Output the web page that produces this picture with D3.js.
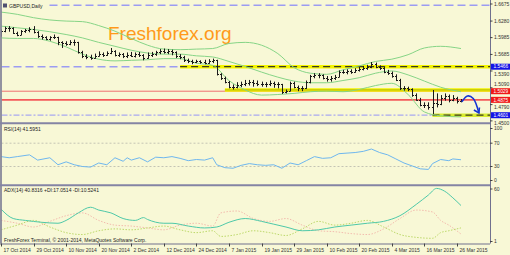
<!DOCTYPE html>
<html><head><meta charset="utf-8">
<script src="https://cdn.jsdelivr.net/npm/d3@7"></script>
<style>body{margin:0;background:#fff}svg{display:block}text{font-family:"Liberation Sans",Arial,sans-serif}</style>
</head><body><svg id="c" width="510" height="255"></svg>
<script>
// ---- data ----
const dateLabels = ["17 Oct 2014","29 Oct 2014","10 Nov 2014","20 Nov 2014","2 Dec 2014","12 Dec 2014","24 Dec 2014","7 Jan 2015","19 Jan 2015","29 Jan 2015","10 Feb 2015","20 Feb 2015","4 Mar 2015","16 Mar 2015","26 Mar 2015"];
const dateLabelIdx = [0,8,16,24,32,40,48,56,64,72,80,88,96,104,112];
const opens = [1.6020,1.6100,1.6150,1.6160,1.6070,1.6040,1.6100,1.6120,1.6140,1.6080,1.6010,1.5990,1.5960,1.5990,1.5990,1.5900,1.5880,1.5870,1.5900,1.5900,1.5720,1.5650,1.5640,1.5630,1.5660,1.5700,1.5680,1.5710,1.5740,1.5680,1.5690,1.5660,1.5670,1.5660,1.5690,1.5670,1.5630,1.5680,1.5700,1.5720,1.5740,1.5730,1.5740,1.5720,1.5650,1.5640,1.5580,1.5560,1.5550,1.5560,1.5550,1.5540,1.5560,1.5580,1.5330,1.5270,1.5200,1.5100,1.5110,1.5140,1.5150,1.5170,1.5190,1.5180,1.5160,1.5160,1.5150,1.5170,1.5150,1.5150,1.5010,1.5040,1.5180,1.5100,1.5080,1.5090,1.5190,1.5300,1.5320,1.5310,1.5270,1.5250,1.5260,1.5290,1.5370,1.5380,1.5390,1.5380,1.5400,1.5430,1.5440,1.5460,1.5520,1.5460,1.5440,1.5380,1.5360,1.5300,1.5230,1.5080,1.5090,1.5070,1.4960,1.4880,1.4790,1.4780,1.4750,1.4820,1.4800,1.4900,1.4950,1.4880,1.4900,1.4850];
const highs = [1.6130,1.6180,1.6190,1.6170,1.6090,1.6120,1.6140,1.6170,1.6190,1.6100,1.6040,1.6010,1.6010,1.6040,1.6000,1.5920,1.5920,1.5940,1.5950,1.5910,1.5750,1.5690,1.5680,1.5700,1.5740,1.5720,1.5740,1.5800,1.5760,1.5720,1.5710,1.5720,1.5730,1.5720,1.5730,1.5690,1.5720,1.5730,1.5750,1.5780,1.5790,1.5780,1.5770,1.5740,1.5690,1.5660,1.5610,1.5590,1.5590,1.5580,1.5590,1.5600,1.5610,1.5590,1.5350,1.5290,1.5210,1.5150,1.5190,1.5200,1.5230,1.5230,1.5230,1.5220,1.5200,1.5190,1.5220,1.5200,1.5190,1.5160,1.5060,1.5200,1.5200,1.5130,1.5120,1.5220,1.5320,1.5350,1.5350,1.5330,1.5300,1.5300,1.5320,1.5400,1.5410,1.5420,1.5420,1.5440,1.5460,1.5480,1.5500,1.5550,1.5540,1.5490,1.5460,1.5410,1.5380,1.5330,1.5250,1.5120,1.5110,1.5080,1.4990,1.4910,1.4830,1.4830,1.5050,1.4990,1.4960,1.4990,1.4970,1.4960,1.4930,1.4890];
const lows = [1.6010,1.6080,1.6090,1.6050,1.6010,1.6030,1.6070,1.6080,1.6060,1.5980,1.5950,1.5940,1.5930,1.5960,1.5850,1.5800,1.5840,1.5850,1.5840,1.5700,1.5620,1.5600,1.5590,1.5610,1.5650,1.5640,1.5660,1.5690,1.5650,1.5640,1.5620,1.5620,1.5640,1.5630,1.5640,1.5580,1.5610,1.5640,1.5660,1.5690,1.5700,1.5690,1.5670,1.5620,1.5600,1.5550,1.5530,1.5510,1.5530,1.5520,1.5510,1.5520,1.5530,1.5310,1.5230,1.5170,1.5080,1.5060,1.5080,1.5100,1.5120,1.5130,1.5110,1.5120,1.5110,1.5100,1.5120,1.5090,1.5080,1.4980,1.4990,1.5030,1.5080,1.5030,1.5030,1.5070,1.5170,1.5260,1.5260,1.5240,1.5200,1.5200,1.5230,1.5280,1.5340,1.5330,1.5340,1.5360,1.5380,1.5400,1.5410,1.5440,1.5440,1.5410,1.5350,1.5320,1.5270,1.5210,1.5050,1.5040,1.5030,1.4930,1.4860,1.4760,1.4730,1.4700,1.4620,1.4740,1.4780,1.4860,1.4830,1.4850,1.4810,1.4830];
const closes = [1.6100,1.6150,1.6160,1.6070,1.6040,1.6100,1.6120,1.6140,1.6080,1.6010,1.5990,1.5960,1.5990,1.5990,1.5900,1.5880,1.5870,1.5900,1.5900,1.5720,1.5650,1.5640,1.5630,1.5660,1.5700,1.5680,1.5710,1.5740,1.5680,1.5690,1.5660,1.5670,1.5660,1.5690,1.5670,1.5630,1.5680,1.5700,1.5720,1.5740,1.5730,1.5740,1.5720,1.5650,1.5640,1.5580,1.5560,1.5550,1.5560,1.5550,1.5540,1.5560,1.5580,1.5330,1.5270,1.5200,1.5100,1.5110,1.5140,1.5150,1.5170,1.5190,1.5180,1.5160,1.5160,1.5150,1.5170,1.5150,1.5150,1.5010,1.5040,1.5180,1.5100,1.5080,1.5090,1.5190,1.5300,1.5320,1.5310,1.5270,1.5250,1.5260,1.5290,1.5370,1.5380,1.5390,1.5380,1.5400,1.5430,1.5440,1.5460,1.5520,1.5460,1.5440,1.5380,1.5360,1.5300,1.5230,1.5080,1.5090,1.5070,1.4960,1.4880,1.4790,1.4780,1.4750,1.4820,1.4800,1.4900,1.4950,1.4880,1.4900,1.4850,1.4870];
// Bollinger bands, read at sample bars
const bandIdx   = [0,4,8,12,16,20,24,28,32,36,40,44,48,52,56,60,64,68,72,76,80,84,88,92,96,100,104,108,113];
const bandUpper = [1.644,1.640,1.634,1.630,1.628,1.627,1.620,1.610,1.597,1.585,1.578,1.577,1.578,1.579,1.588,1.590,1.585,1.570,1.545,1.535,1.533,1.541,1.548,1.556,1.560,1.568,1.580,1.583,1.579];
const bandMid   = [1.619,1.616,1.613,1.609,1.604,1.598,1.590,1.583,1.576,1.571,1.569,1.569,1.566,1.564,1.556,1.547,1.537,1.528,1.521,1.518,1.518,1.522,1.527,1.535,1.539,1.532,1.521,1.510,1.502];
const bandLower = [1.598,1.597,1.597,1.592,1.582,1.569,1.560,1.557,1.558,1.559,1.561,1.561,1.553,1.549,1.522,1.505,1.496,1.497,1.499,1.502,1.503,1.502,1.506,1.513,1.517,1.497,1.466,1.459,1.457];
// horizontal levels
const dashedLevels = [1.6560, 1.5466];
const dashDotLevel = 1.4601;
const redThin = 1.5029, redThick = 1.4875;
const yellowLines = [{from:44, price:1.5466, dash:true},{from:55, price:1.5052, dash:false},{from:106, price:1.4601, dash:true}];
const priceTicks = [1.6675,1.6280,1.5985,1.5685,1.5390,1.5090,1.4790,1.4500];
const priceBoxes = [{v:"1.5466",p:1.5466,c:"#1414e6"},{v:"1.5029",p:1.5029,c:"#f01818"},{v:"1.4875",p:1.4875,c:"#f01818"},{v:"1.4601",p:1.4601,c:"#1414e6"}];
const arrowPts = [[113.2,1.4840],[114.6,1.4945],[116.0,1.4900],[117.4,1.4640]];
// RSI(14)
const rsiIdx = [0,2,4,7,9,12,14,16,18,20,22,24,26,28,30,31,32,34,36,38,40,42,44,46,48,50,52,53,55,57,59,61,63,65,67,69,71,73,75,77,79,81,83,85,87,89,91,93,95,97,99,101,103,105,106,108,110,111,113];
const rsiVal = [47,45,47,50,41,45,33,38,33,30,29,36,33,45,39,45,41,45,38,46,45,47,44,40,42,41,45,33,28,27,32,35,33,32,33,27,36,33,40,47,44,45,52,53,54,56,60,54,50,43,36,31,26,25,35,42,40,43,41.6];
const rsiTicks = [100,70,30,0];
// ADX(14), +DI, -DI
const adxIdx = [0,3,6,10,14,16,19,22,24,27,30,33,35,36,40,42,46,50,53,56,60,64,67,70,74,78,82,86,90,94,98,102,105,107,109,111,113];
const adxVal = [37,27,25,23,22,25,33,39,36,33,27,25,28,26,22,22,19,17,18,23,27,24,21,18,14,15,18,20,22,24,30,42,52,59,56,49,40.8];
const diIdx = [0,4,8,12,16,20,24,28,32,36,40,44,48,52,54,58,62,66,70,74,78,82,86,90,94,98,102,106,108,110,113];
const plusDI = [15,20,25,18,12,10,14,16,15,17,19,15,12,14,8,10,14,12,9,16,24,20,22,25,18,10,7,6,12,14,17.05];
const minusDI = [25,22,18,24,30,33,25,20,19,17,15,20,22,19,33,35,27,24,27,20,14,13,11,10,16,27,36,34,25,20,10.52];
const adxTicks = [60,1];

// ---- layout ----
const svg = d3.select("#c");
const BG = "#f8f8d6", FRAME = "#70708e";
const L = 1.5, R = 490;
const main = {top:2, bottom:122.5}, rsiP = {top:124.5, bottom:184}, adxP = {top:186.5, bottom:243.5};
svg.append("rect").attr("width",510).attr("height",255).attr("fill",BG);

const x = d3.scaleLinear().domain([0,113]).range([1,461]);
const y = d3.scaleLinear().domain([1.4480,1.6620]).range([122,2]);
const yR = d3.scaleLinear().domain([0,100]).range([184,125.7]);
const yA = d3.scaleLinear().domain([1,60.5]).range([243,187]);

const defs = svg.append("defs");
defs.append("clipPath").attr("id","cm").append("rect").attr("x",L).attr("y",main.top).attr("width",R-L).attr("height",main.bottom-main.top);
defs.append("clipPath").attr("id","cr").append("rect").attr("x",L).attr("y",rsiP.top).attr("width",R-L).attr("height",rsiP.bottom-rsiP.top);
defs.append("clipPath").attr("id","ca").append("rect").attr("x",L).attr("y",adxP.top).attr("width",R-L).attr("height",adxP.bottom-adxP.top);

const gm = svg.append("g").attr("clip-path","url(#cm)");

// watermark
gm.append("text").attr("x",108).attr("y",40).attr("font-size",19).attr("fill","#ff9a1a").text("Freshforex.org");

// dashed lavender levels
dashedLevels.forEach(p=>{
  gm.append("line").attr("x1",L).attr("x2",R).attr("y1",y(p)).attr("y2",y(p))
    .attr("stroke","#9c9cf2").attr("stroke-width",1.5).attr("stroke-dasharray","8,4");
});
gm.append("line").attr("x1",L).attr("x2",R).attr("y1",y(dashDotLevel)).attr("y2",y(dashDotLevel))
  .attr("stroke","#a8a8f0").attr("stroke-width",1.3).attr("stroke-dasharray","6,2,2,2");
gm.append("line").attr("x1",L).attr("x2",R).attr("y1",y(redThin)).attr("y2",y(redThin)).attr("stroke","#f07070").attr("stroke-width",1);
gm.append("line").attr("x1",L).attr("x2",R).attr("y1",y(redThick)).attr("y2",y(redThick)).attr("stroke","#f45a5a").attr("stroke-width",1.8);

// yellow highlighted lines
yellowLines.forEach(d=>{
  gm.append("line").attr("x1",x(d.from)).attr("x2",R).attr("y1",y(d.price)).attr("y2",y(d.price))
    .attr("stroke",d.from>100?"#d8ec30":"#f4f400").attr("stroke-width",3.5);
  gm.append("line").attr("x1",x(d.from)).attr("x2",R).attr("y1",y(d.price)).attr("y2",y(d.price))
    .attr("stroke","#3a3a20").attr("stroke-width",d.dash?1.3:0.6).attr("stroke-dasharray",d.dash?"7,4":null).attr("opacity",d.dash?1:0.6);
});

// Bollinger bands
[bandUpper,bandMid,bandLower].forEach(arr=>{
  gm.append("path").datum(bandIdx.map((i,k)=>[i,arr[k]]))
    .attr("d",d3.line().x(d=>x(d[0])).y(d=>y(d[1])).curve(d3.curveMonotoneX))
    .attr("fill","none").attr("stroke","#86d486").attr("stroke-width",1);
});

// OHLC bars
const bars = gm.append("g").attr("stroke","#1a1a1a").attr("stroke-width",1);
closes.forEach((c,i)=>{
  const xi = Math.round(x(i))+0.5;
  bars.append("line").attr("x1",xi).attr("x2",xi).attr("y1",y(highs[i])).attr("y2",y(lows[i]));
  bars.append("line").attr("x1",xi-1.5).attr("x2",xi).attr("y1",Math.round(y(opens[i]))+0.5).attr("y2",Math.round(y(opens[i]))+0.5);
  bars.append("line").attr("x1",xi).attr("x2",xi+1.5).attr("y1",Math.round(y(c))+0.5).attr("y2",Math.round(y(c))+0.5);
});

// arrow
const ap = arrowPts.map(d=>[x(d[0]),y(d[1])]);
gm.append("path").attr("d",d3.line().curve(d3.curveCatmullRom)(ap)).attr("fill","none").attr("stroke","#1434d4").attr("stroke-width",1.6);
const tip = ap[ap.length-1];
gm.append("path").attr("d",`M${tip[0]-5},${tip[1]-3}L${tip[0]},${tip[1]}L${tip[0]+0.5},${tip[1]-5.5}`).attr("fill","none").attr("stroke","#1434d4").attr("stroke-width",1.6);

// title (with its own background, which hides the level line behind it)
svg.append("rect").attr("x",2).attr("y",2).attr("width",46).attr("height",8).attr("fill",BG);
svg.append("rect").attr("x",3).attr("y",3.5).attr("width",4).attr("height",4).attr("fill","#505070");
svg.append("text").attr("x",9).attr("y",8).attr("font-size",5).attr("fill","#222").text("GBPUSD,Daily");

// RSI panel
const gr = svg.append("g").attr("clip-path","url(#cr)");
[70,30].forEach(v=>gr.append("line").attr("x1",L).attr("x2",R).attr("y1",yR(v)).attr("y2",yR(v)).attr("stroke","#c4c4b4").attr("stroke-dasharray","2,2"));
gr.append("path").datum(rsiIdx.map((i,k)=>[i,rsiVal[k]]))
  .attr("d",d3.line().x(d=>x(d[0])).y(d=>yR(d[1])))
  .attr("fill","none").attr("stroke","#6eb6ee").attr("stroke-width",1);
svg.append("text").attr("x",4).attr("y",131).attr("font-size",5).attr("fill","#222").text("RSI(14) 41.5951");

// ADX panel
const ga = svg.append("g").attr("clip-path","url(#ca)");
ga.append("path").datum(diIdx.map((i,k)=>[i,minusDI[k]]))
  .attr("d",d3.line().x(d=>x(d[0])).y(d=>yA(d[1])).curve(d3.curveMonotoneX))
  .attr("fill","none").attr("stroke","#f2bcae").attr("stroke-width",1).attr("stroke-dasharray","1.5,1.5");
ga.append("path").datum(diIdx.map((i,k)=>[i,plusDI[k]]))
  .attr("d",d3.line().x(d=>x(d[0])).y(d=>yA(d[1])).curve(d3.curveMonotoneX))
  .attr("fill","none").attr("stroke","#bcd86a").attr("stroke-width",1).attr("stroke-dasharray","1.5,1.5");
ga.append("path").datum(adxIdx.map((i,k)=>[i,adxVal[k]]))
  .attr("d",d3.line().x(d=>x(d[0])).y(d=>yA(d[1])).curve(d3.curveMonotoneX))
  .attr("fill","none").attr("stroke","#4ec8a8").attr("stroke-width",1);
svg.append("text").attr("x",4).attr("y",192).attr("font-size",5).attr("fill","#222").text("ADX(14) 40.8316 +DI:17.0514 -DI:10.5241");
svg.append("text").attr("x",4).attr("y",242).attr("font-size",5).attr("fill","#222").text("FreshForex Terminal, © 2001-2014, MetaQuotes Software Corp.");

// frames
const fr = svg.append("g").attr("fill","none").attr("stroke",FRAME);
fr.append("line").attr("x1",1).attr("x2",1).attr("y1",0).attr("y2",adxP.bottom).attr("stroke-width",1.5);
fr.append("line").attr("x1",R+0.5).attr("x2",R+0.5).attr("y1",0).attr("y2",adxP.bottom);
fr.append("line").attr("x1",0).attr("x2",R).attr("y1",main.bottom+0.8).attr("y2",main.bottom+0.8).attr("stroke-width",2).attr("stroke","#8484a4");
fr.append("line").attr("x1",0).attr("x2",R).attr("y1",rsiP.bottom+1.2).attr("y2",rsiP.bottom+1.2).attr("stroke-width",2).attr("stroke","#8484a4");
fr.append("line").attr("x1",0).attr("x2",R).attr("y1",adxP.bottom+0.5).attr("y2",adxP.bottom+0.5);

// right axis (price): tick labels are nudged clear of the level boxes
const ax = svg.append("g").attr("font-size",5).attr("fill","#333");
const boxYs = priceBoxes.map(b=>y(b.p));
priceTicks.forEach(v=>{
  let yy = Math.max(y(v),4);
  let ty = yy;
  boxYs.forEach(by=>{
    const d = ty - by;
    if (Math.abs(d) < 7.5) ty = d > 0 ? by + 7.5 : by - 7.5;
  });
  ax.append("line").attr("x1",R).attr("x2",R+2.5).attr("y1",yy).attr("y2",yy).attr("stroke","#444");
  ax.append("text").attr("x",R+4).attr("y",ty+1.8).text(v.toFixed(4));
});
priceBoxes.forEach(b=>{
  const yy = y(b.p);
  ax.append("rect").attr("x",R+1).attr("y",yy-3).attr("width",19).attr("height",6).attr("fill",b.c);
  ax.append("text").attr("x",R+3.5).attr("y",yy+1.7).attr("font-size",4.8).attr("fill","#fff").text(b.v);
});
rsiTicks.forEach(v=>{
  const yy = Math.min(Math.max(yR(v),128.5),180.5);
  ax.append("line").attr("x1",R).attr("x2",R+2.5).attr("y1",yy).attr("y2",yy).attr("stroke","#444");
  ax.append("text").attr("x",R+4).attr("y",yy+1.8).text(v);
});
adxTicks.forEach(v=>{
  const yy = Math.min(Math.max(yA(v),189),241.5);
  ax.append("line").attr("x1",R).attr("x2",R+2.5).attr("y1",yy).attr("y2",yy).attr("stroke","#444");
  ax.append("text").attr("x",R+4).attr("y",yy+1.8).text(v);
});
// bottom axis
dateLabelIdx.forEach((i,k)=>{
  const xx = Math.round(x(i))+0.5;
  ax.append("line").attr("x1",xx).attr("x2",xx).attr("y1",adxP.bottom).attr("y2",adxP.bottom+3).attr("stroke","#444");
  ax.append("text").attr("x",xx+2).attr("y",251.5).text(dateLabels[k]);
});
</script></body></html>
